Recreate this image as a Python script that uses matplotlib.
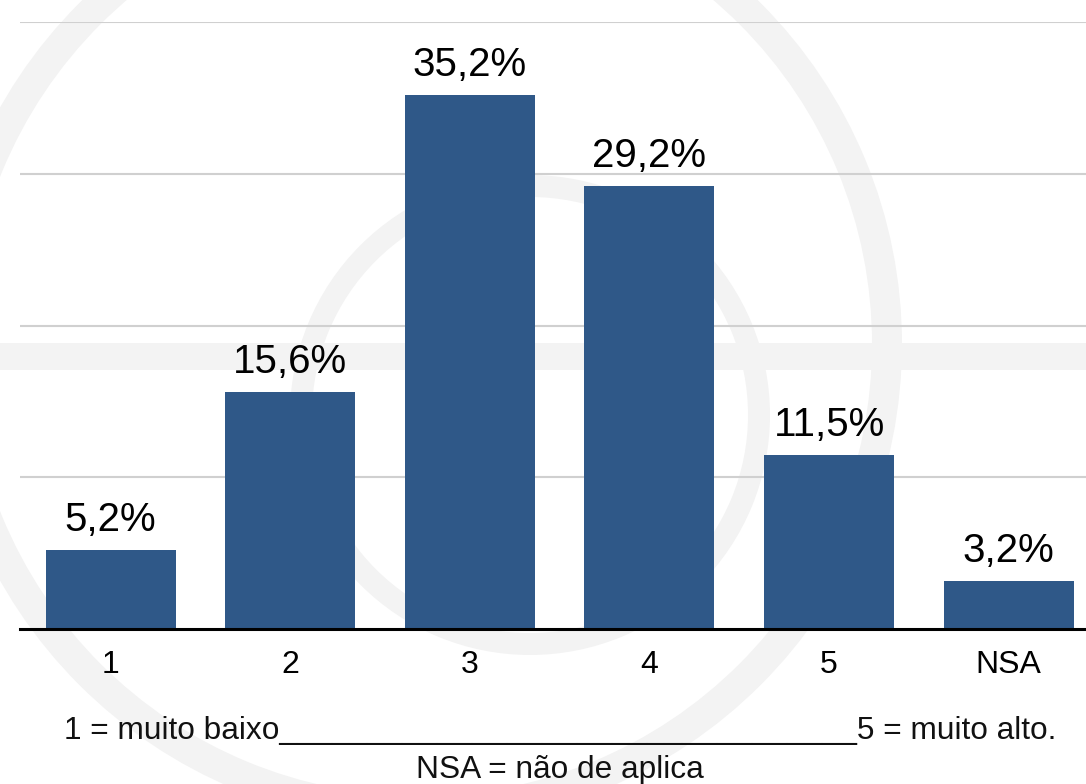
import matplotlib
matplotlib.use("Agg")
import matplotlib.pyplot as plt
from matplotlib.patches import Wedge, Rectangle

categories = ["1", "2", "3", "4", "5", "NSA"]
values = [5.2, 15.6, 35.2, 29.2, 11.5, 3.2]
labels = ["5,2%", "15,6%", "35,2%", "29,2%", "11,5%", "3,2%"]
footnote1 = "1 = muito baixo" + "_" * 33 + "5 = muito alto."
footnote2 = "NSA = não de aplica"

plt.rcParams['font.family'] = ['Liberation Sans', 'DejaVu Sans']

W, H = 1086, 784
fig = plt.figure(figsize=(W / 100, H / 100), dpi=100)
fig.patch.set_facecolor("white")

# faint watermark (background logo)
bg = fig.add_axes([0, 0, 1, 1], zorder=0)
bg.set_xlim(0, W)
bg.set_ylim(H, 0)
bg.axis("off")
wm = "#f3f3f3"
bg.add_patch(Wedge((420, 344), 482, 0, 360, width=30, facecolor=wm, edgecolor="none"))
bg.add_patch(Wedge((530, 415), 240, 0, 360, width=22, facecolor=wm, edgecolor="none"))
bg.add_patch(Rectangle((0, 343), W, 27, facecolor=wm, edgecolor="none"))

ax = fig.add_axes([20 / W, 1 - 629.3 / H, 1 - 20 / W, (629.3 - 21.7) / H], zorder=1)
ax.patch.set_alpha(0)

x = list(range(1, len(categories) + 1))
bars = ax.bar(x, values, width=0.724, color="#2f5888", zorder=3)
for xi, v, lab in zip(x, values, labels):
    ax.annotate(lab, (xi, v), xytext=(0, 8), textcoords="offset points",
                ha="center", va="bottom", fontsize=29, color="black")

ax.set_xlim(0.496, 6.43)
ax.set_ylim(0, 40)
ax.set_yticks([10, 20, 30, 40])
ax.yaxis.grid(True, color="#d0d0d0", linewidth=1.5, zorder=0)
ax.tick_params(axis="y", left=False, labelleft=False)
ax.set_xticks(x)
ax.set_xticklabels(categories, fontsize=23)
ax.tick_params(axis="x", length=0, pad=15)
for s in ["top", "right", "left"]:
    ax.spines[s].set_visible(False)
ax.spines["bottom"].set_linewidth(2.2)
ax.spines["bottom"].set_color("black")
ax.spines["bottom"].set_zorder(4)

fig.text(560 / W, 1 - 739 / H, footnote1, ha="center", va="baseline", fontsize=22.8, color="#111111")
fig.text(560 / W, 1 - 778 / H, footnote2, ha="center", va="baseline", fontsize=22.8, color="#111111")

fig.savefig("out.png", dpi=100, facecolor="white")
